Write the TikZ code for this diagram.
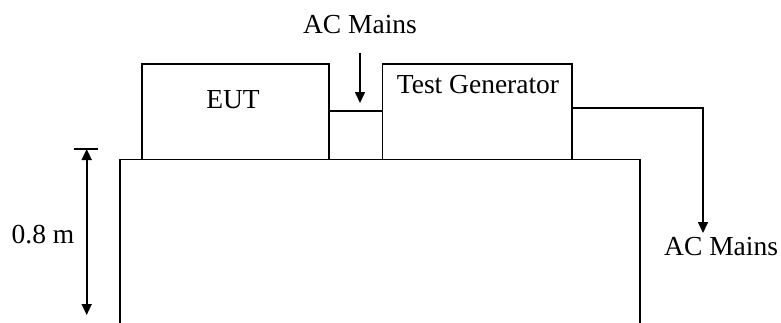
\documentclass[tikz,border=0pt]{standalone}
\usepackage{fontspec}
\setmainfont{Liberation Serif}
\usetikzlibrary{arrows.meta}

\tikzset{
    box/.style={draw, line width=1.6pt, inner sep=0pt},
    wire/.style={line width=1.6pt},
    lbl/.style={inner sep=0pt, font=\fontsize{27.5}{33}\selectfont},
}

\begin{document}
\begin{tikzpicture}[x=1pt, y=1pt, >={Triangle[length=11pt,width=10pt]}]
\useasboundingbox (0,0) rectangle (781,322);
% table
\draw[wire] (120,-5) -- (120,162.5) -- (640,162.5) -- (640,-5);
% boxes on the table
\node[box, minimum width=187pt, minimum height=95.5pt] (eut) at (235.5,210.25) {};
\node[box, minimum width=189.5pt, minimum height=95.5pt] (gen) at (477.25,210.25) {};
\node[lbl] (eutText) at (233,222) {EUT};
\node[lbl] (genText) at (478,237) {Test Generator};
\draw[wire] ([yshift=1pt]eut.east) -- ([yshift=1pt]gen.west);
% mains feeds
\node[lbl] (mainsTop) at (360,297) {AC Mains};
\coordinate (feedTop) at (360,269.3);
\coordinate (feedEnd) at (360,219);
\draw[wire,->] (feedTop) -- (feedEnd);
\node[lbl, anchor=west] (mainsRight) at (664,75) {AC Mains};
\coordinate (drop) at (703,89);
\draw[wire,->] ([yshift=4pt]gen.east) -| (drop);
% height of the table
\coordinate (tickL) at (74,173);
\coordinate (tickR) at (98,173);
\coordinate (dimTop) at (86.7,173);
\coordinate (dimBot) at (86.7,7);
\draw[wire] (tickL) -- (tickR);
\draw[wire,<->] (dimTop) -- (dimBot);
\node[lbl] (height) at (43,87) {0.8 m};
\end{tikzpicture}
\end{document}
